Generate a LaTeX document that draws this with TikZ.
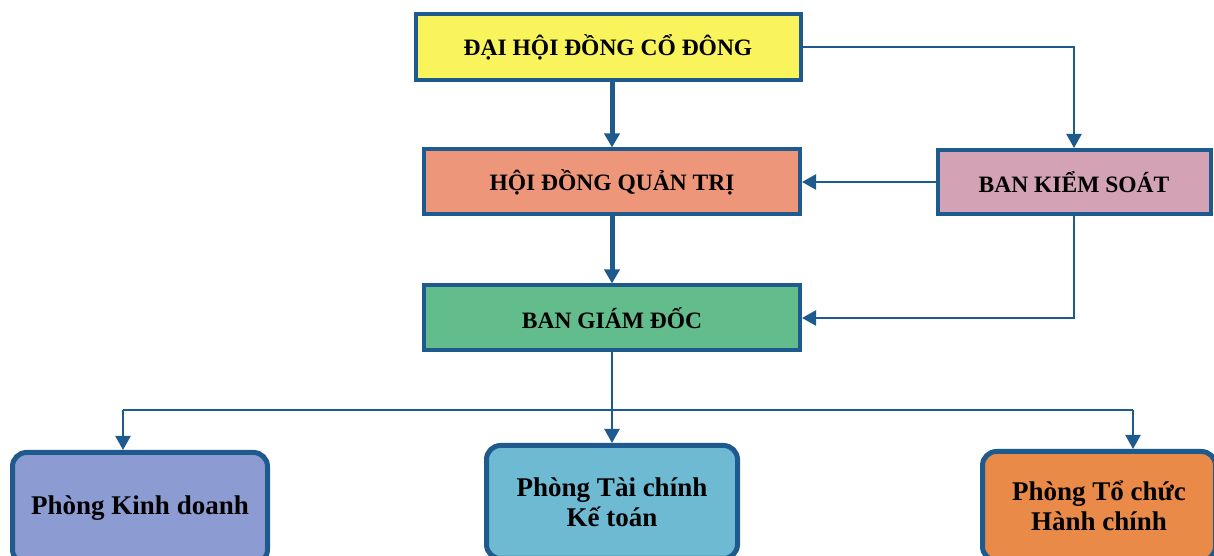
\documentclass[tikz,border=0pt]{standalone}
\usepackage{fontspec}
\setmainfont{Liberation Serif}
\usetikzlibrary{arrows.meta}
\definecolor{edgeblue}{RGB}{30,90,142}
\definecolor{fillyellow}{RGB}{250,244,92}
\definecolor{fillsalmon}{RGB}{238,150,122}
\definecolor{fillmauve}{RGB}{211,162,180}
\definecolor{fillgreen}{RGB}{98,188,140}
\definecolor{fillviolet}{RGB}{140,155,210}
\definecolor{fillcyan}{RGB}{110,186,210}
\definecolor{fillorange}{RGB}{233,138,72}

\begin{document}
\begin{tikzpicture}
      [
        x=1pt, y=1pt,
        level/.style={draw=edgeblue, line width=4pt, inner sep=0pt,
          font=\bfseries\fontsize{23.5}{28}\selectfont},
        unit/.style={draw=edgeblue, line width=5pt, rounded corners=14pt, inner sep=0pt,
          align=center, font=\bfseries\fontsize{27}{30}\selectfont},
        link/.style={edgeblue, line width=2.2pt},
        heavylink/.style={edgeblue, line width=5pt},
        tip/.style={-{Triangle[width=15pt,length=14pt]}}
      ]
      \useasboundingbox (0,0) rectangle (1214,556);
      \clip (0,0) rectangle (1214,556);
      % management levels
      \node [level, fill=fillyellow, minimum width=385pt, minimum height=66pt]
        (dhdcd) at (608,509) {ĐẠI HỘI ĐỒNG CỔ ĐÔNG};
      \node [level, fill=fillsalmon, minimum width=376pt, minimum height=65pt]
        (hdqt) at (612,374) {HỘI ĐỒNG QUẢN TRỊ};
      \node [level, fill=fillmauve, minimum width=273pt, minimum height=64pt]
        (bks) at (1074,374) {BAN KIỂM SOÁT};
      \node [level, fill=fillgreen, minimum width=376pt, minimum height=65pt]
        (bgd) at (612,238) {BAN GIÁM ĐỐC};
      % departments
      \node [unit, fill=fillviolet, minimum width=255pt, minimum height=111pt]
        (pkd) at (140,48) {Phòng Kinh doanh};
      \node [unit, fill=fillcyan, minimum width=251pt, minimum height=113pt]
        (ptc) at (612,54) {Phòng Tài chính\\Kế toán};
      \node [unit, fill=fillorange, minimum width=233pt, minimum height=109pt]
        (ptchc) at (1099,50) {Phòng Tổ chức\\Hành chính};
      % main line
      \draw [heavylink, tip] (hdqt.north |- dhdcd.south) -- (hdqt.north);
      \draw [heavylink, tip] (hdqt.south) -- (bgd.north);
      % control lines
      \draw [link, tip] (dhdcd.east) -| (bks.north);
      \draw [link, tip] (bks.west) -- (hdqt.east);
      \draw [link, tip] (bks.south) |- (bgd.east);
      % distribution bus
      \coordinate (busL) at (123,146);
      \coordinate (busR) at (1133,146);
      \draw [link] (bgd.south) -- (bgd.south |- busL);
      \draw [link] (busL) -- (busR);
      \draw [link, tip] (busL) -- (busL |- pkd.north);
      \draw [link, tip] (bgd.south |- busL) -- (ptc.north);
      \draw [link, tip] (busR) -- (busR |- ptchc.north);
\end{tikzpicture}
\end{document}
